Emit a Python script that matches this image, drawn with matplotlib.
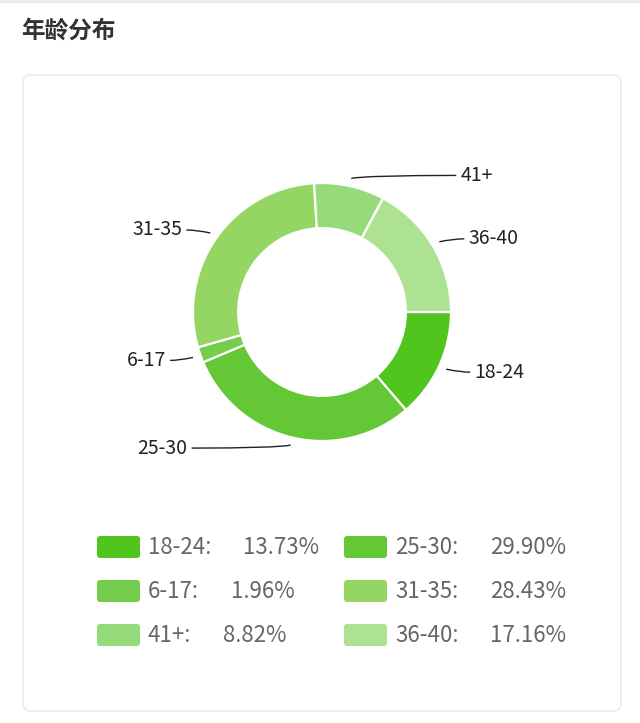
import numpy as np
import matplotlib.pyplot as plt
from matplotlib.patches import FancyBboxPatch
from matplotlib.path import Path
from matplotlib.patches import PathPatch

plt.rcParams['font.family'] = ['Noto Sans CJK SC', 'DejaVu Sans']

# data
labels = ['18-24', '25-30', '6-17', '31-35', '41+', '36-40']
values = [13.73, 29.90, 1.96, 28.43, 8.82, 17.16]
colors = ['#52c41e', '#64c735', '#75cd4d', '#95d662', '#96db79', '#ace292']
title = '年龄分布'

# leader line horizontal length per label (layout only)
line_len = {'18-24': 24, '25-30': 99, '6-17': 23, '31-35': 24, '41+': 105, '36-40': 25}

W, H = 640, 723
fig = plt.figure(figsize=(W / 100, H / 100), dpi=100)
fig.patch.set_facecolor('white')
ax = fig.add_axes([0, 0, 1, 1])

cx, cy, R = 322, 312, 129
# y axis is inverted below, so counterclock=True draws clockwise on screen
wedges, _ = ax.pie(values, colors=colors, startangle=0, counterclock=True,
                   center=(cx, cy), radius=R,
                   wedgeprops=dict(width=R * 0.35, edgecolor='white', linewidth=1.6))
ax.set_xlim(0, W)
ax.set_ylim(H, 0)
ax.axis('off')

# card
card = FancyBboxPatch((23, 75), 598, 636, boxstyle='round,pad=0,rounding_size=8',
                      facecolor='white', edgecolor='#ebebeb', linewidth=1.2, zorder=0)
ax.add_patch(card)
ax.plot([0, W], [1, 1], color='#ececec', lw=3, zorder=0)

ax.text(21, 31, title, fontsize=17, fontweight='bold', color='#333333',
        ha='left', va='center')

# leader lines and labels
for w, lab in zip(wedges, labels):
    ang = np.deg2rad((w.theta1 + w.theta2) / 2)
    x0 = cx + 1.06 * R * np.cos(ang)
    y0 = cy + 1.06 * R * np.sin(ang)
    side = 1 if np.cos(ang) >= 0 else -1
    ly = y0 + (3 if y0 > cy else -3)
    x2 = x0 + side * line_len[lab]
    verts = [(x0, y0), (x0 + side * 14, ly), (x2, ly)]
    path = Path(verts, [Path.MOVETO, Path.CURVE3, Path.CURVE3])
    ax.add_patch(PathPatch(path, facecolor='none', edgecolor='#222222', lw=1.0))
    ax.text(x2 + side * 4, ly, lab, fontsize=14, color='#222222',
            ha='left' if side > 0 else 'right', va='center')

# legend
col_x = [97, 344]
row_y = [547, 591, 635]
rw, rh = 43, 22
fig.canvas.draw()
renderer = fig.canvas.get_renderer()
for i, (lab, val, c) in enumerate(zip(labels, values, colors)):
    x = col_x[i % 2]
    y = row_y[i // 2]
    ax.add_patch(FancyBboxPatch((x, y - rh / 2), rw, rh,
                                boxstyle='round,pad=0,rounding_size=3',
                                facecolor=c, edgecolor='none'))
    t = ax.text(x + rw + 8, y, lab + ':', fontsize=16, color='#666666',
                ha='left', va='center')
    bb = t.get_window_extent(renderer)
    xr = ax.transData.inverted().transform((bb.x1, bb.y0))[0]
    ax.text(xr + 32, y, f'{val:.2f}%', fontsize=16, color='#666666',
            ha='left', va='center')

fig.savefig('out.png', dpi=100, facecolor='white')
